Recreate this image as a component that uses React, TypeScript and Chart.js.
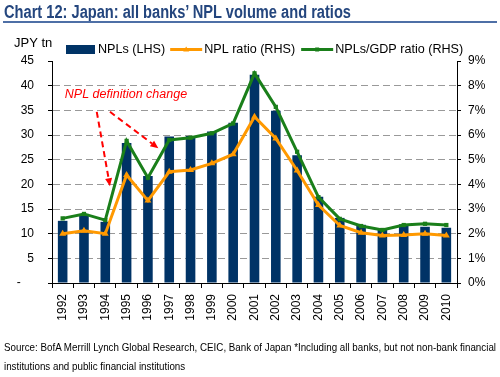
import React, { useEffect, useLayoutEffect, useRef } from "react";
import { Chart, registerables } from "chart.js";

Chart.register(...registerables);

// ---- Data ----
const years = ["1992", "1993", "1994", "1995", "1996", "1997", "1998", "1999", "2000", "2001", "2002", "2003", "2004", "2005", "2006", "2007", "2008", "2009", "2010"];
const npls = [12.6, 14.0, 12.4, 28.4, 21.7, 29.7, 29.8, 30.7, 32.5, 42.2, 34.9, 25.9, 17.5, 13.2, 11.8, 11.1, 11.9, 11.4, 11.2];
const nplRatio = [2.0, 2.12, 2.0, 4.38, 3.34, 4.51, 4.58, 4.85, 5.22, 6.74, 5.86, 4.56, 3.16, 2.33, 2.04, 1.93, 1.95, 2.0, 1.93];
const nplGdp = [2.62, 2.8, 2.55, 5.76, 4.27, 5.8, 5.89, 6.07, 6.47, 8.5, 7.14, 5.32, 3.48, 2.6, 2.31, 2.15, 2.35, 2.4, 2.35];
const seriesLabels = ["NPLs (LHS)", "NPL ratio (RHS)", "NPLs/GDP ratio (RHS)"];
const leftTicks = [0, 5, 10, 15, 20, 25, 30, 35, 40, 45];
const rightTicks = [0, 1, 2, 3, 4, 5, 6, 7, 8, 9];
const unitLabel = "JPY tn";
const titleText = "Chart 12: Japan: all banks’ NPL volume and ratios";
const sourceLines = [
  "Source: BofA Merrill Lynch Global Research, CEIC, Bank of Japan *Including all banks, but not non-bank financial",
  "institutions and public financial institutions",
];
const noteText = "NPL definition change";
// annotation anchors: [category index, LHS value]
const noteAnchor = [0.1, 38.3];
const noteArrows = [
  { from: [1.6, 34.7], to: [2.22, 19.6] },
  { from: [2.22, 34.7], to: [4.49, 27.3] },
];

const COLORS = { bar: "#003366", orange: "#FF9900", green: "#1A7F1A" };
const FONT = '"Liberation Sans", Arial, sans-serif';

const overlayPlugin = {
  id: "overlay",
  afterDraw(chart: any) {
    const ctx = chart.ctx as CanvasRenderingContext2D;
    const x = chart.scales.x;
    const y = chart.scales.y;
    ctx.save();
    // unit label
    ctx.font = `13px ${FONT}`;
    ctx.fillStyle = "#000";
    ctx.textBaseline = "middle";
    ctx.textAlign = "left";
    ctx.fillText(unitLabel, 14, 43);

    // legend
    ctx.font = `12.6px ${FONT}`;
    const ly = 49.5;
    let cx = 66;
    const ds = chart.data.datasets;
    ctx.fillStyle = ds[0].backgroundColor;
    ctx.fillRect(cx, ly - 4.5, 29, 9);
    cx += 32;
    ctx.fillStyle = "#000";
    ctx.fillText(ds[0].label, cx, ly);
    cx += ctx.measureText(ds[0].label).width + 5;
    for (let i = 1; i < 3; i++) {
      const d = ds[i];
      const lw = 32;
      ctx.strokeStyle = d.borderColor;
      ctx.lineWidth = 3;
      ctx.beginPath();
      ctx.moveTo(cx, ly);
      ctx.lineTo(cx + lw, ly);
      ctx.stroke();
      ctx.fillStyle = d.borderColor;
      const mx = cx + lw / 2;
      if (d.pointStyle === "triangle") {
        ctx.beginPath();
        ctx.moveTo(mx, ly - 3);
        ctx.lineTo(mx + 3, ly + 2);
        ctx.lineTo(mx - 3, ly + 2);
        ctx.closePath();
        ctx.fill();
      } else {
        ctx.fillRect(mx - 2, ly - 2, 4, 4);
      }
      cx += lw + 2;
      ctx.fillStyle = "#000";
      ctx.fillText(d.label, cx, ly);
      cx += ctx.measureText(d.label).width + 6;
    }

    // annotation text
    ctx.font = `italic 12.5px ${FONT}`;
    ctx.fillStyle = "#FF0000";
    ctx.textAlign = "left";
    ctx.textBaseline = "middle";
    ctx.fillText(noteText, x.getPixelForValue(noteAnchor[0]), y.getPixelForValue(noteAnchor[1]));

    // arrows
    for (const a of noteArrows) {
      const x1 = x.getPixelForValue(a.from[0]);
      const y1 = y.getPixelForValue(a.from[1]);
      const x2 = x.getPixelForValue(a.to[0]);
      const y2 = y.getPixelForValue(a.to[1]);
      const ang = Math.atan2(y2 - y1, x2 - x1);
      const hl = 8;
      const bx = x2 - hl * Math.cos(ang);
      const by = y2 - hl * Math.sin(ang);
      ctx.strokeStyle = "#FF0000";
      ctx.lineWidth = 2;
      ctx.setLineDash([6, 4]);
      ctx.beginPath();
      ctx.moveTo(x1, y1);
      ctx.lineTo(bx, by);
      ctx.stroke();
      ctx.setLineDash([]);
      ctx.fillStyle = "#FF0000";
      ctx.beginPath();
      ctx.moveTo(x2, y2);
      ctx.lineTo(bx + 3.5 * Math.sin(ang), by - 3.5 * Math.cos(ang));
      ctx.lineTo(bx - 3.5 * Math.sin(ang), by + 3.5 * Math.cos(ang));
      ctx.closePath();
      ctx.fill();
    }
    ctx.restore();
  },
};

// Condensed text: natural Liberation Sans, squeezed horizontally to the target width
function FitText(props: { text: string; width: number; scaleFrom?: boolean; style: React.CSSProperties; factorRef?: { current: number } }) {
  const ref = useRef<HTMLSpanElement>(null);
  useLayoutEffect(() => {
    const el = ref.current;
    if (!el) return;
    const w = el.getBoundingClientRect().width;
    const f = w > 0 ? props.width / w : 1;
    el.style.transform = `scaleX(${f})`;
  }, []);
  return (
    <span ref={ref} style={{ display: "inline-block", whiteSpace: "nowrap", transformOrigin: "0 0", ...props.style }}>
      {props.text}
    </span>
  );
}

export default function App() {
  const ref = useRef<HTMLCanvasElement>(null);
  const srcRef = useRef<HTMLDivElement>(null);

  useLayoutEffect(() => {
    // squeeze both source lines by the same factor so line 1 spans the target width
    const box = srcRef.current;
    if (!box) return;
    const spans = box.querySelectorAll("span");
    const w = (spans[0] as HTMLElement).getBoundingClientRect().width;
    const f = w > 0 ? 492 / w : 1;
    spans.forEach((s) => { (s as HTMLElement).style.transform = `scaleX(${f})`; });
  }, []);

  useEffect(() => {
    if (!ref.current) return;
    const chart = new Chart(ref.current, {
      type: "bar",
      data: {
        labels: years,
        datasets: [
          {
            type: "bar",
            label: seriesLabels[0],
            data: npls,
            yAxisID: "y",
            backgroundColor: COLORS.bar,
            borderWidth: 0,
            categoryPercentage: 1,
            barPercentage: 0.45,
            order: 2,
          } as any,
          {
            type: "line",
            label: seriesLabels[1],
            data: nplRatio,
            yAxisID: "y1",
            borderColor: COLORS.orange,
            backgroundColor: COLORS.orange,
            borderWidth: 3,
            pointStyle: "triangle",
            pointRadius: 4,
            pointBorderWidth: 0,
            tension: 0,
            order: 1,
          },
          {
            type: "line",
            label: seriesLabels[2],
            data: nplGdp,
            yAxisID: "y1",
            borderColor: COLORS.green,
            backgroundColor: COLORS.green,
            borderWidth: 3,
            pointStyle: "rect",
            pointRadius: 3,
            pointBorderWidth: 0,
            tension: 0,
            order: 0,
          },
        ],
      },
      options: {
        responsive: false,
        animation: false,
        devicePixelRatio: 1,
        layout: { padding: { top: 61, left: 0, right: 0, bottom: 0 } },
        plugins: { legend: { display: false }, tooltip: { enabled: false } },
        scales: {
          x: {
            grid: { offset: true, drawOnChartArea: false, tickLength: 5, color: "#000", tickColor: "#000" },
            border: { color: "#000", width: 1 },
            ticks: { maxRotation: 90, minRotation: 90, autoSkip: false, padding: 6, color: "#000", font: { size: 12, family: FONT } },
            afterFit: (s: any) => { s.height = 94; },
          },
          y: {
            position: "left",
            min: leftTicks[0],
            max: leftTicks[leftTicks.length - 1],
            afterBuildTicks: (s: any) => { s.ticks = leftTicks.map((v) => ({ value: v })); },
            ticks: {
              padding: 14,
              color: "#000",
              font: { size: 12, family: FONT },
              callback: (v: any) => (Number(v) === 0 ? "-    " : String(v)),
            },
            grid: {
              color: (c: any) => (c.tick && (c.tick.value === 0 || c.tick.value === 45) ? "rgba(0,0,0,0)" : "#999999"),
              tickColor: "#000",
              tickLength: 4,
              lineWidth: 1,
            },
            border: { color: "#000", width: 1, dash: [7, 4] },
            afterFit: (s: any) => { s.width = 52; },
          },
          y1: {
            position: "right",
            min: rightTicks[0],
            max: rightTicks[rightTicks.length - 1],
            afterBuildTicks: (s: any) => { s.ticks = rightTicks.map((v) => ({ value: v })); },
            ticks: {
              padding: 7,
              color: "#000",
              font: { size: 12, family: FONT },
              callback: (v: any) => `${v}%`,
            },
            grid: { drawOnChartArea: false, tickColor: "#000", tickLength: 4 },
            border: { color: "#000", width: 1 },
            afterFit: (s: any) => { s.width = 43; },
          },
        },
      },
      plugins: [overlayPlugin],
    });
    return () => chart.destroy();
  }, []);

  return (
    <div style={{ position: "absolute", left: 0, top: 0, width: 500, height: 377, background: "#fff", overflow: "hidden" }}>
      <canvas ref={ref} width={500} height={377} style={{ position: "absolute", left: 0, top: 0, width: 500, height: 377 }} />
      <div style={{ position: "absolute", left: 4, top: 1 }}>
        <FitText
          text={titleText}
          width={347}
          style={{ fontFamily: FONT, fontWeight: "bold", fontSize: 18, lineHeight: "22px", color: "#24467E" }}
        />
      </div>
      <div style={{ position: "absolute", left: 3, top: 21, width: 494, height: 2, background: "#4E6FA6" }} />
      <div
        ref={srcRef}
        style={{ position: "absolute", left: 4, top: 338, fontFamily: FONT, fontSize: 11.5, lineHeight: "19px", color: "#000" }}
      >
        <div><span style={{ display: "inline-block", whiteSpace: "nowrap", transformOrigin: "0 0" }}>{sourceLines[0]}</span></div>
        <div><span style={{ display: "inline-block", whiteSpace: "nowrap", transformOrigin: "0 0" }}>{sourceLines[1]}</span></div>
      </div>
    </div>
  );
}
